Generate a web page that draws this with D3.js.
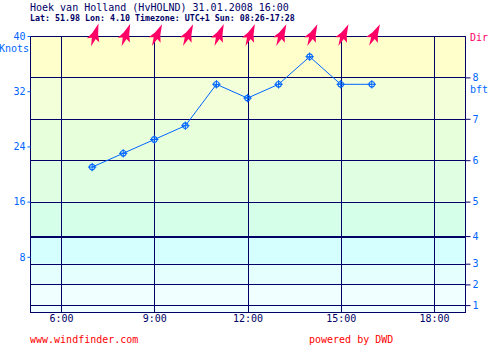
<!DOCTYPE html>
<html>
<head>
<meta charset="utf-8">
<script src="https://cdn.jsdelivr.net/npm/d3@7"></script>
<style>
  html, body { margin: 0; padding: 0; background: #ffffff; }
  svg { display: block; }
  text { font-family: "DejaVu Sans Mono", monospace; }
</style>
</head>
<body>
<script>
// Forecast: Hoek van Holland, 31.01.2008
const titleText = "Hoek van Holland (HvHOLND) 31.01.2008 16:00";
const subtitleText = "Lat: 51.98 Lon: 4.10 Timezone: UTC+1 Sun: 08:26-17:28";

const hours = [7, 8, 9, 10, 11, 12, 13, 14, 15, 16];
const speedKnots = [21, 23, 25, 27, 33, 31, 33, 37, 33, 33];
// wind direction (degrees, direction the wind comes from)
const dirDeg = [198, 201, 205, 205, 203, 203, 205, 205, 205, 207];

const knotTicks = [8, 16, 24, 32, 40];
const hourTicks = [6, 9, 12, 15, 18];
const hourLabels = ["6:00", "9:00", "12:00", "15:00", "18:00"];

// Beaufort scale lower limits in knots (1..8 bft)
const bftLimits = [1, 4, 7, 11, 16, 22, 28, 34];
const bftLabels = ["1", "2", "3", "4", "5", "6", "7", "8"];
// background band colours, bottom to top (0-1, 1-4, ..., 34-40 knots)
const bandColors = ["#f0ffff", "#f0ffff", "#e5ffff", "#d5ffff", "#d5ffe8",
                    "#e0ffe2", "#e8ffdc", "#f2ffd8", "#ffffcc"];

const W = 495, H = 348;
const navy = "#000066", blue = "#0066ff", pink = "#ff0066", red = "#ff0000";

const svg = d3.select("body").append("svg")
  .attr("width", W).attr("height", H);

const x = d3.scaleLinear().domain([5, 19]).range([30, 465]);
const y = d3.scaleLinear().domain([0, 40]).range([312, 36]);

// background bands
const bandEdges = [0, ...bftLimits, 40];
svg.append("g").selectAll("rect")
  .data(bandColors)
  .join("rect")
  .attr("x", x(5))
  .attr("width", x(19) - x(5))
  .attr("y", (d, i) => y(bandEdges[i + 1]))
  .attr("height", (d, i) => y(bandEdges[i]) - y(bandEdges[i + 1]))
  .attr("fill", d => d);

// Beaufort grid lines
const grid = svg.append("g").attr("shape-rendering", "crispEdges");
grid.selectAll("line.bft")
  .data(bftLimits)
  .join("line")
  .attr("class", "bft")
  .attr("x1", x(5)).attr("x2", x(19))
  .attr("y1", d => Math.round(y(d)) + 0.5)
  .attr("y2", d => Math.round(y(d)) + 0.5)
  .attr("stroke", navy)
  .attr("stroke-width", d => d === 11 ? 2 : 1);

// hour grid lines
grid.selectAll("line.hr")
  .data(hourTicks)
  .join("line")
  .attr("class", "hr")
  .attr("x1", d => Math.round(x(d)) + 0.5)
  .attr("x2", d => Math.round(x(d)) + 0.5)
  .attr("y1", y(40)).attr("y2", y(0))
  .attr("stroke", navy);

// frame
grid.append("rect")
  .attr("x", x(5) + 0.5).attr("y", y(40) + 0.5)
  .attr("width", x(19) - x(5)).attr("height", y(0) - y(40))
  .attr("fill", "none").attr("stroke", navy);

// left axis (knots)
const leftAxis = d3.axisLeft(y).tickValues(knotTicks).tickSize(3).tickPadding(2);
const gl = svg.append("g")
  .attr("transform", `translate(${x(5) + 0.5},0)`)
  .call(leftAxis);
gl.select(".domain").remove();
gl.selectAll(".tick line").attr("stroke", blue);
gl.selectAll(".tick text")
  .attr("fill", blue)
  .style("font-family", "DejaVu Sans Mono")
  .style("font-size", "10px");

svg.append("text")
  .attr("x", 29).attr("y", 52)
  .attr("text-anchor", "end")
  .attr("fill", blue)
  .style("font-size", "10px")
  .text("Knots");

// right axis (Beaufort)
const rightAxis = d3.axisRight(y).tickValues(bftLimits)
  .tickFormat((d, i) => bftLabels[i]).tickSize(5).tickPadding(2);
const gr = svg.append("g")
  .attr("transform", `translate(${x(19) + 0.5},0)`)
  .call(rightAxis);
gr.select(".domain").remove();
gr.selectAll(".tick line").attr("stroke", navy);
gr.selectAll(".tick text")
  .attr("fill", blue)
  .style("font-family", "DejaVu Sans Mono")
  .style("font-size", "10px");

svg.append("text")
  .attr("x", 470).attr("y", 93)
  .attr("fill", blue)
  .style("font-size", "10px")
  .text("bft");

svg.append("text")
  .attr("x", 470).attr("y", 40.5)
  .attr("fill", pink)
  .style("font-size", "10px")
  .text("Dir");

// bottom axis labels (hours)
const bottomAxis = d3.axisBottom(x).tickValues(hourTicks)
  .tickFormat((d, i) => hourLabels[i]).tickSize(0).tickPadding(3);
const gb = svg.append("g")
  .attr("transform", `translate(0,${y(0)})`)
  .call(bottomAxis);
gb.select(".domain").remove();
gb.selectAll(".tick text")
  .attr("fill", navy)
  .style("font-family", "DejaVu Sans Mono")
  .style("font-size", "10px");

// wind speed line
const pts = hours.map((h, i) => [h, speedKnots[i]]);
svg.append("path")
  .datum(pts)
  .attr("fill", "none")
  .attr("stroke", blue)
  .attr("stroke-width", 1)
  .attr("d", d3.line().x(d => x(d[0])).y(d => y(d[1])));

// markers: circle with cross
const mk = svg.append("g").selectAll("g")
  .data(pts)
  .join("g")
  .attr("transform", d => `translate(${x(d[0])},${y(d[1])})`);
mk.append("circle").attr("r", 2.8)
  .attr("fill", "none").attr("stroke", blue).attr("stroke-width", 1.2);
mk.append("path").attr("d", "M-4.2,0H4.2M0,-4.2V4.2")
  .attr("stroke", blue).attr("stroke-width", 1);

// wind direction arrows (pointing where the wind blows)
const arrowPath = "M0,-12.5 L3,-2 L6.5,5 L2,3 L0,11.5 L-2,3 L-6.5,5 L-3,-2 Z";
svg.append("g").selectAll("path")
  .data(hours.map((h, i) => [h, dirDeg[i]]))
  .join("path")
  .attr("d", arrowPath)
  .attr("fill", pink)
  .attr("transform", d => `translate(${x(d[0]) + 2.5},35.5) rotate(${d[1] - 180})`);

// titles
svg.append("text")
  .attr("x", 30).attr("y", 11)
  .attr("fill", navy)
  .style("font-size", "10px")
  .text(titleText);

svg.append("text")
  .attr("x", 30).attr("y", 20.5)
  .attr("fill", navy)
  .style("font-size", "8.3px")
  .style("font-weight", "bold")
  .text(subtitleText);

// footer
svg.append("text")
  .attr("x", 30).attr("y", 343)
  .attr("fill", red)
  .style("font-size", "10px")
  .text("www.windfinder.com");

svg.append("text")
  .attr("x", 309).attr("y", 343)
  .attr("fill", red)
  .style("font-size", "10px")
  .text("powered by DWD");
</script>
</body>
</html>
